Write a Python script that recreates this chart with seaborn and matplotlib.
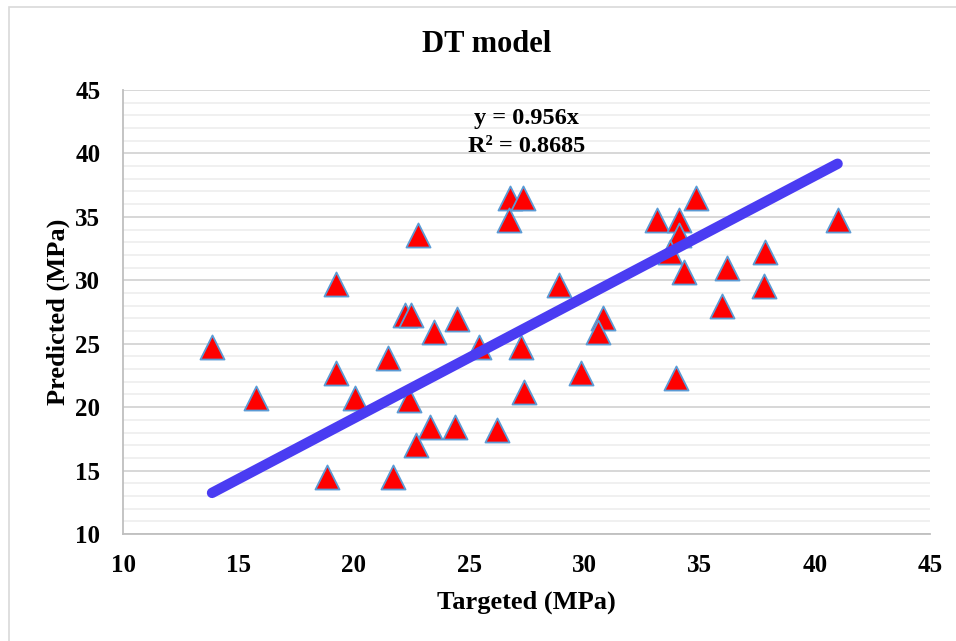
import matplotlib
matplotlib.use("Agg")
import matplotlib.pyplot as plt
import seaborn as sns
import numpy as np
import pandas as pd
from matplotlib.patches import Rectangle
from matplotlib.ticker import MultipleLocator

# ---- data ----
targeted = [13.85, 15.75, 19.25, 19.22, 20.06, 18.82, 21.68, 21.5, 22.21, 22.47,
            22.79, 23.47, 24.48, 22.4, 23.3, 24.41, 22.72, 26.2, 25.43, 26.76,
            26.73, 27.34, 27.27, 27.38, 28.9, 29.87, 30.81, 30.59, 33.16, 34.09,
            34.09, 33.7, 34.32, 34.85, 33.96, 36.2, 35.97, 37.83, 37.78, 40.99]
predicted = [24.76, 20.69, 29.7, 22.66, 20.69, 14.5, 14.5, 23.85, 27.26, 27.26,
             33.56, 25.94, 26.92, 20.6, 18.46, 18.46, 17.0, 18.2, 24.76, 36.45,
             34.74, 36.45, 24.76, 21.2, 29.6, 22.66, 27.0, 25.9, 34.74, 34.74,
             33.6, 32.25, 30.67, 36.45, 22.27, 30.94, 27.97, 32.2, 29.57, 34.74]
slope = 0.956
r2 = 0.8685
x_ticks = [10, 15, 20, 25, 30, 35, 40, 45]
y_ticks = [10, 15, 20, 25, 30, 35, 40, 45]
title = "DT model"
x_label = "Targeted (MPa)"
y_label = "Predicted (MPa)"

df = pd.DataFrame({"Targeted": targeted, "Predicted": predicted})
trend_x = [min(targeted), max(targeted)]
trend = pd.DataFrame({"x": trend_x, "y": [slope * v for v in trend_x]})

sns.set_theme(style="white")
plt.rcParams["font.family"] = ["Liberation Serif", "DejaVu Serif"]
plt.rcParams["font.weight"] = "bold"
plt.rcParams["text.color"] = "black"
plt.rcParams["axes.labelcolor"] = "black"

W, H = 956, 641
fig = plt.figure(figsize=(W / 100, H / 100), dpi=100)
ax = fig.add_axes([123.3 / W, 1 - 534 / H, (930 - 123.3) / W, (534 - 90) / H])

# outer chart border
fig.patches.append(Rectangle((8.5 / W, -0.05), 1.2, 1 - 7.5 / H + 0.05,
                             transform=fig.transFigure, fill=False,
                             edgecolor="#D9D9D9", linewidth=1.2, zorder=0))

ax.set_xlim(10, 45)
ax.set_ylim(10, 45)
ax.yaxis.set_minor_locator(MultipleLocator(1))
ax.set_xticks(x_ticks)
ax.set_yticks(y_ticks)

ax.grid(False)
ax.yaxis.grid(True, which="major", color="#D4D4D4", linewidth=1.3, zorder=0)
ax.yaxis.grid(True, which="minor", color="#EDEDED", linewidth=1.2, zorder=0)
ax.set_axisbelow(True)

for s in ["top", "right"]:
    ax.spines[s].set_visible(False)
for s in ["left", "bottom"]:
    ax.spines[s].set_color("#BFBFBF")
    ax.spines[s].set_linewidth(1.3)

ax.tick_params(axis="both", which="major", direction="out", length=5.5,
               width=1.2, color="#BFBFBF", labelcolor="black", labelsize=18, pad=9)
ax.tick_params(axis="y", which="minor", length=0)
ax.tick_params(axis="y", which="major", pad=11)
for lab in ax.get_xticklabels() + ax.get_yticklabels():
    lab.set_fontweight("bold")

sns.scatterplot(data=df, x="Targeted", y="Predicted", ax=ax, marker="^",
                s=300, color="#FF0000", edgecolor="#5B9BD5", linewidth=1.3,
                zorder=3, legend=False)
sns.lineplot(data=trend, x="x", y="y", ax=ax, color="#4A3CF2", linewidth=7.5,
             solid_capstyle="round", zorder=4, legend=False)

ax.set_xlabel(x_label, fontsize=19, fontweight="bold", labelpad=10, color="black")
ax.set_ylabel(y_label, fontsize=19, fontweight="bold", labelpad=4, color="black")

ax.text(0.5, 0.905, f"y = {slope}x\nR\u00b2 = {r2}", transform=ax.transAxes,
        ha="center", va="center", fontsize=17.5, fontweight="bold",
        linespacing=1.45, zorder=5, color="black")

fig.text(487 / W, 1 - 44 / H, title, ha="center", va="center",
         fontsize=22, fontweight="bold", color="black")

fig.savefig("out.png", dpi=100)
